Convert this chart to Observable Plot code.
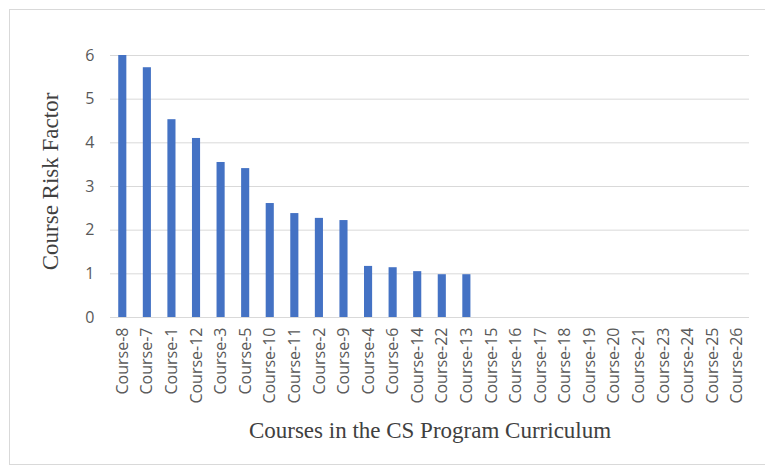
<!DOCTYPE html>
<html>
<head>
<meta charset="utf-8">
<script src="https://cdn.jsdelivr.net/npm/d3@7"></script>
<script src="https://cdn.jsdelivr.net/npm/@observablehq/plot@0.6"></script>
<style>
  html, body { margin: 0; padding: 0; background: #fff; }
  #wrap { position: relative; width: 765px; height: 468px; overflow: hidden; }
  #border { position: absolute; left: 9px; top: 9px; width: 770px; height: 456px; border: 1px solid #d9d9d9; box-sizing: border-box; pointer-events: none; }
</style>
</head>
<body>
<div id="wrap"><div id="border"></div></div>
<script>
const courses = ["Course-8","Course-7","Course-1","Course-12","Course-3","Course-5","Course-10","Course-11","Course-2","Course-9","Course-4","Course-6","Course-14","Course-22","Course-13","Course-15","Course-16","Course-17","Course-18","Course-19","Course-20","Course-21","Course-23","Course-24","Course-25","Course-26"];
const riskFactor = [6.0,5.72,4.53,4.1,3.55,3.41,2.61,2.38,2.27,2.22,1.17,1.14,1.05,0.98,0.98,0,0,0,0,0,0,0,0,0,0,0];
const yTicks = [0,1,2,3,4,5,6];
const yTitle = "Course Risk Factor";
const xTitle = "Courses in the CS Program Curriculum";

const data = courses.map((c, i) => ({course: c, value: riskFactor[i]}));

const chart = Plot.plot({
  width: 765,
  height: 468,
  marginLeft: 110,
  marginRight: 16,
  marginTop: 55,
  marginBottom: 151,
  style: {fontFamily: "'Open Sans', sans-serif", background: "transparent", overflow: "visible"},
  x: {domain: courses, paddingInner: 0.67, paddingOuter: 0.335, round: false, label: null},
  y: {domain: [0, 6], label: null},
  marks: [
    Plot.gridY(yTicks, {stroke: "#d9d9d9", strokeOpacity: 1, strokeWidth: 1}),
    Plot.barY(data, {x: "course", y: "value", fill: "#4472C4"}),
    Plot.axisY(yTicks, {tickSize: 0, tickPadding: 16, fontSize: 16, fill: "#595959", label: null}),
    Plot.axisX({tickSize: 0, tickPadding: 10, tickRotate: -90, fontSize: 16, fill: "#595959", label: null}),
    Plot.text([yTitle], {frameAnchor: "left", textAnchor: "middle", dx: -60, dy: -5, rotate: -90, text: d => d, fontFamily: "'Liberation Serif', serif", fontSize: 23, fill: "#404040"}),
    Plot.text([xTitle], {frameAnchor: "bottom", textAnchor: "middle", dy: 120, text: d => d, fontFamily: "'Liberation Serif', serif", fontSize: 23, fill: "#404040"})
  ]
});
document.getElementById("wrap").appendChild(chart);
chart.style.position = "absolute";
chart.style.left = "0";
chart.style.top = "0";
</script>
</body>
</html>
